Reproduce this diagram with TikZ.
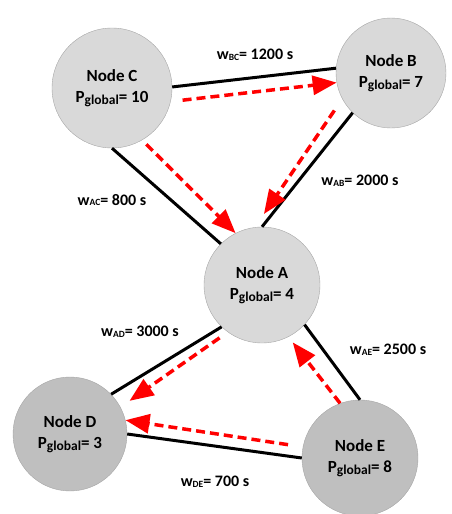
\documentclass[tikz,border=0pt]{standalone}
\usepackage{fontspec}
\setmainfont{Carlito}
\usepackage{tikz}
\usetikzlibrary{arrows.meta, calc}
\newcommand{\wsub}[1]{w\raisebox{-0.1ex}{\fontsize{9.5}{9.5}\selectfont #1}}
\newcommand{\pglob}{P\raisebox{-0.3ex}{\fontsize{13.5}{13.5}\selectfont global}}
\tikzset{
    peer/.style={circle, draw=black!35, thin, align=center, font=\fontsize{17}{21}\selectfont\bfseries, inner sep=0pt},
    link/.style={line width=3pt, black},
    flow/.style={-{Triangle[length=24pt, width=19pt]}, line width=3.5pt, red, dash pattern=on 9pt off 5pt},
}
\begin{document}
\begin{tikzpicture}[
  x=1pt, y=-1pt,
  peerlight/.style={peer, fill=black!15},
  peerdark/.style={peer, fill=black!25},
  weight/.style={font=\fontsize{16}{19}\selectfont\bfseries, inner sep=0pt}
]
\useasboundingbox (0,0) rectangle (451,514);
\node[peerlight, minimum size=120pt] (nc) at (112,88) {Node C\\\pglob= 10};
\node[peerlight, minimum size=110pt] (nb) at (391,73) {Node B\\\pglob= 7};
\node[peerlight, minimum size=116pt] (na) at (262,285) {Node A\\\pglob= 4};
\node[peerdark, minimum size=114pt] (nd) at (70,434) {Node D\\\pglob= 3};
\node[peerdark, minimum size=116pt] (ne) at (360,458) {Node E\\\pglob= 8};

% links
\draw[link] (nc.1) -- (nb.175.5);
\draw[link] (nb.-134) -- (na.90);
\draw[link] (nc.270) -- (na.135);
\draw[link] (na.226) -- (nd.44);
\draw[link] (na.-43) -- (ne.90);
\draw[link] (nd.0) -- (ne.180);

% flows
\draw[flow, shorten <=12pt] (nc.-13) -- (nb.190);
\draw[flow, shorten <=14pt, shorten >=16pt] (nb.208) -- (na.97);
\draw[flow, shorten <=6pt] (nc.-60) -- (na.117);
\draw[flow, shorten <=10pt, shorten >=11pt] (na.234) -- (nd.28);
\draw[flow, shorten >=7pt] (ne.110) -- (na.-63);
\draw[flow, shorten <=15pt] (ne.169) -- (nd.14);

% weights
\node[weight] (wbc) at (255,55) {\wsub{BC}= 1200 s};
\node[weight] (wab) at (360,181) {\wsub{AB}= 2000 s};
\node[weight] (wac) at (112,200) {\wsub{AC}= 800 s};
\node[weight] (wad) at (140,332) {\wsub{AD}= 3000 s};
\node[weight] (wae) at (388,350) {\wsub{AE}= 2500 s};
\node[weight] (wde) at (215,482) {\wsub{DE}= 700 s};
\end{tikzpicture}
\end{document}
